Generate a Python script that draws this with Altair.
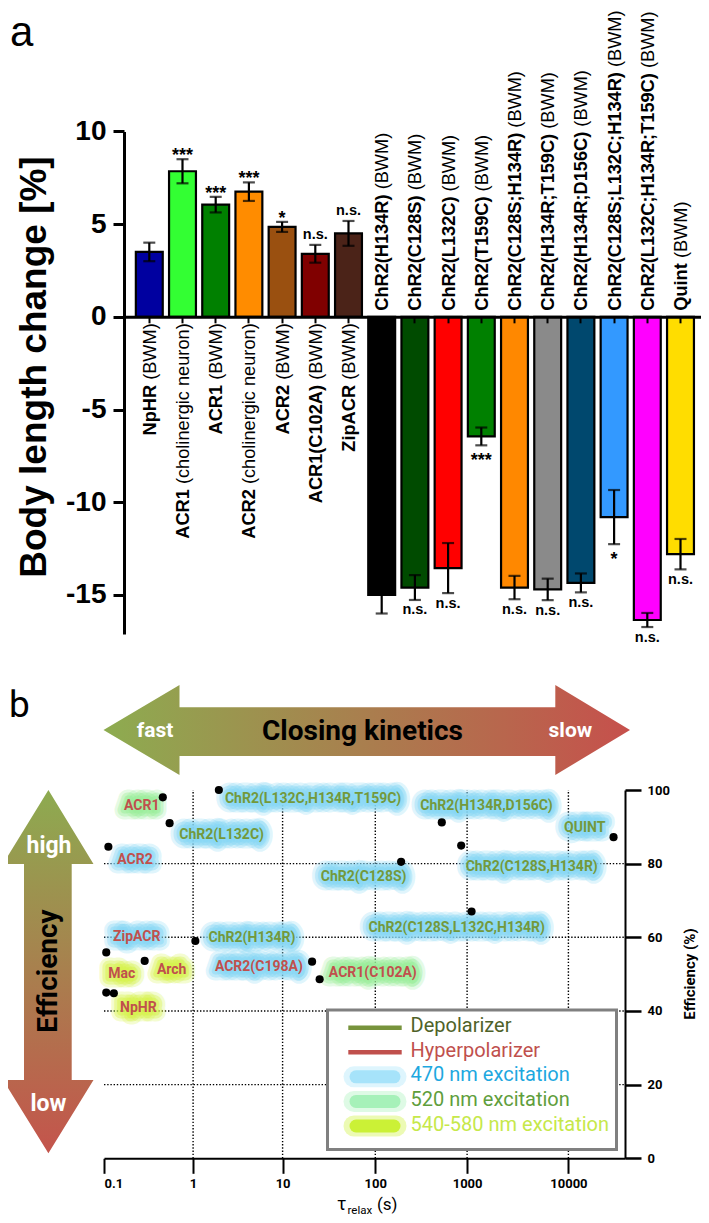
import altair as alt
import pandas as pd

W, H = 693, 1207
M = 8  # page margin: chart pixel = page pixel - 8

FA = "Liberation Sans, Arial, sans-serif"
FB = "Roboto, sans-serif"

# ---------------- panel a: body length change ----------------
names_left = ["NpHR", "ACR1", "ACR1", "ACR2", "ACR2", "ACR1(C102A)", "ZipACR"]
suffix_left = ["(BWM)", "(cholinergic neuron)", "(BWM)", "(cholinergic neuron)",
               "(BWM)", "(BWM)", "(BWM)"]
values_left = [3.5, 7.85, 6.05, 6.75, 4.85, 3.4, 4.5]
errors_left = [0.5, 0.65, 0.42, 0.5, 0.27, 0.48, 0.67]
signif_left = ["", "***", "***", "***", "*", "n.s.", "n.s."]
colors_left = ["#0000a0", "#33ff33", "#008000", "#ff8c00", "#9a5010", "#800000", "#4b2318"]

names_right = ["ChR2(H134R)", "ChR2(C128S)", "ChR2(L132C)", "ChR2(T159C)",
               "ChR2(C128S;H134R)", "ChR2(H134R;T159C)", "ChR2(H134R;D156C)",
               "ChR2(C128S;L132C;H134R)", "ChR2(L132C;H134R;T159C)", "Quint"]
suffix_right = ["(BWM)"] * 10
values_right = [-15.0, -14.6, -13.55, -6.45, -14.6, -14.7, -14.35, -10.8, -16.35, -12.8]
errors_right = [1.0, 0.67, 1.35, 0.48, 0.63, 0.58, 0.51, 1.46, 0.38, 0.82]
signif_right = ["", "n.s.", "n.s.", "***", "n.s.", "n.s.", "n.s.", "*", "n.s.", "n.s."]
colors_right = ["#000000", "#004b00", "#ff0000", "#008000", "#ff8800", "#8a8a8a",
                "#00486e", "#3399ff", "#ff00ff", "#ffdd00"]

ticks_a = [-15, -10, -5, 0, 5, 10]
domain_a = [-17.1, 10]

# ---------------- panel b: efficiency vs closing kinetics ----------------
variants = ["ACR1", "ChR2(L132C,H134R,T159C)", "ChR2(L132C)", "ACR2", "ChR2(C128S)",
            "ChR2(H134R,D156C)", "ChR2(C128S,H134R)", "QUINT", "ChR2(C128S,L132C,H134R)",
            "ChR2(H134R)", "ZipACR", "Arch", "Mac", "NpHR", "ACR2(C198A)", "ACR1(C102A)"]
tau_relax = [0.457, 1.94, 0.545, 0.112, 191, 530, 862, 27900, 1107,
             1.06, 0.106, 0.286, 0.106, 0.129, 20.8, 25.1]
efficiency = [98.0, 100.0, 91.0, 84.6, 80.5, 91.2, 84.9, 87.2, 67.0,
              59.0, 55.9, 53.6, 45.0, 44.8, 53.4, 48.6]
polarity = ["hyper", "depol", "depol", "hyper", "depol", "depol", "depol", "depol", "depol",
            "depol", "hyper", "hyper", "hyper", "hyper", "hyper", "hyper"]
excitation = ["520", "470", "470", "470", "470", "470", "470", "470", "470",
              "470", "470", "540-580", "540-580", "540-580", "470", "520"]
label_tau = [0.265, 21.3, 2.08, 0.223, 74.8, 1554, 4345, 14490, 771,
             4.55, 0.233, 0.575, 0.158, 0.243, 5.43, 94.0]
label_eff = [95.7, 97.5, 87.8, 81.0, 76.5, 95.7, 79.2, 89.6, 62.4,
             59.9, 60.0, 51.1, 50.0, 40.9, 52.0, 50.2]
tick_tau = [0.1, 1, 10, 100, 1000, 10000]
tick_eff = [0, 20, 40, 60, 80, 100]
grid_tau = [1, 10, 100, 1000, 10000]
grid_eff = [20, 40, 60, 80]
tau_max = 36200

legend_labels = ["Depolarizer", "Hyperpolarizer", "470 nm excitation",
                 "520 nm excitation", "540-580 nm excitation"]
legend_kind = ["line", "line", "glow", "glow", "glow"]
legend_swatch = ["#77933c", "#c0504d", "#a0e1fa", "#a0f0b4", "#c8f028"]
legend_text_color = ["#4f6228", "#c0504d", "#1ea8e0", "#5f9e3c", "#c6e84a"]

GLOW = {"470": "#86d7f5", "520": "#98ee98", "540-580": "#d6f34a"}
TCOL = {"depol": "#73993c", "hyper": "#c0504d"}

# ---------------- helpers ----------------
AR = {' ': 278, '(': 333, ')': 333, 'B': 667, 'W': 944, 'M': 833, 'c': 500, 'h': 556,
      'o': 556, 'l': 222, 'i': 222, 'n': 556, 'e': 556, 'r': 333, 'g': 556, 'u': 556}
AB = {' ': 278, '(': 333, ')': 333, ';': 333, 'A': 722, 'C': 722, 'D': 722, 'H': 722,
      'L': 611, 'N': 722, 'Q': 778, 'R': 722, 'S': 667, 'T': 611, 'Z': 611, 'h': 611,
      'i': 278, 'n': 611, 'p': 611, 't': 333, 'u': 611}


def tw(s, size, table):
    return sum(table.get(ch, 556) for ch in s) * size / 1000.0


# panel a scales (page positions minus margin)
keys = [str(i) for i in range(17)]
XA = alt.Scale(type="band", domain=keys, range=[124 - M, 705.8 - M],
               paddingInner=0.19, paddingOuter=0.357)
YA_RANGE = [633.9 - M, 131.4 - M]
YA = alt.Scale(type="linear", domain=domain_a, range=YA_RANGE, nice=False, zero=False)
PPU = (YA_RANGE[0] - YA_RANGE[1]) / (domain_a[1] - domain_a[0])
ZERO_PX = YA_RANGE[1] + domain_a[1] * PPU
LBL = 18.2
SP = 278 * LBL / 1000

rows = []
for i, (n, s, v, e, g, c) in enumerate(zip(names_left + names_right, suffix_left + suffix_right,
                                           values_left + values_right, errors_left + errors_right,
                                           signif_left + signif_right, colors_left + colors_right)):
    side = "pos" if v > 0 else "neg"
    if side == "pos":
        sy = -((323.3 - M) - ZERO_PX) / PPU
        ny = sy - (tw(s, LBL, AR) + SP) / PPU
    else:
        ny = (ZERO_PX - (310.7 - M)) / PPU
        sy = ny + (tw(n, LBL, AB) + SP) / PPU
    star = "star" if "*" in g else ("ns" if g else "none")
    rows.append(dict(key=str(i), name=n, suffix=s, value=v, lo=v - e, hi=v + e, sig=g,
                     color=c, side=side, star=star, name_y=ny, suffix_y=sy))
df_a = pd.DataFrame(rows)

xa = alt.X("key:N", scale=XA, axis=None)

bars = alt.Chart(df_a).mark_bar(stroke="black", strokeWidth=2.2).encode(
    x=alt.X("key:N", scale=XA, axis=alt.Axis(
        orient="bottom", offset=-(H - ZERO_PX), labels=False, title=None, grid=False,
        domainColor="black", domainWidth=3, tickColor="black", tickWidth=2, tickSize=6, zindex=1)),
    y=alt.Y("value:Q", scale=YA, axis=alt.Axis(
        orient="left", offset=-(124 - M), values=ticks_a, title=None, grid=False,
        labelExpr="toString(datum.value)", labelFont=FA, labelFontSize=28,
        labelFontWeight="bold", labelColor="black", labelPadding=7,
        domainColor="black", domainWidth=3, tickColor="black", tickWidth=3, tickSize=11)),
    fill=alt.Fill("color:N", scale=None),
)
err_rule = alt.Chart(df_a).mark_rule(color="black", strokeWidth=2.2).encode(
    x=xa, y=alt.Y("lo:Q", scale=YA, axis=None), y2="hi:Q")
cap_hi = alt.Chart(df_a).mark_tick(color="black", thickness=2.2, size=12, orient="horizontal").encode(
    x=xa, y=alt.Y("hi:Q", scale=YA, axis=None))
cap_lo = alt.Chart(df_a).mark_tick(color="black", thickness=2.2, size=12, orient="horizontal").encode(
    x=xa, y=alt.Y("lo:Q", scale=YA, axis=None))


def sig_layer(side, star, field, dy, size):
    return alt.Chart(df_a).transform_filter(
        (alt.datum.side == side) & (alt.datum.star == star)).mark_text(
        font=FA, fontSize=size, fontWeight="bold", color="black", baseline="alphabetic",
        align="center", dy=dy).encode(
        x=xa, y=alt.Y(f"{field}:Q", scale=YA, axis=None), text="sig:N")


sigs = [sig_layer("pos", "star", "hi", 1.8, 18), sig_layer("pos", "ns", "hi", -6, 14.5),
        sig_layer("neg", "star", "lo", 20.6, 18), sig_layer("neg", "ns", "lo", 14.5, 14.5)]


def label_layer(side, tfield, yfield, bold, align):
    return alt.Chart(df_a).transform_filter(alt.datum.side == side).mark_text(
        font=FA, fontSize=LBL, fontWeight="bold" if bold else "normal", angle=270,
        align=align, baseline="alphabetic", dy=6.5, color="black").encode(
        x=xa, y=alt.Y(f"{yfield}:Q", scale=YA, axis=None), text=f"{tfield}:N")


labels_a = [label_layer("pos", "name", "name_y", True, "right"),
            label_layer("pos", "suffix", "suffix_y", False, "right"),
            label_layer("neg", "name", "name_y", True, "left"),
            label_layer("neg", "suffix", "suffix_y", False, "left")]

# panel b scales
XB_RANGE = [p - M for p in [104, 193.1, 282.6, 375.3, 467.1, 568.4, 625]]
XB = alt.Scale(type="log", domain=tick_tau + [tau_max], range=XB_RANGE, nice=False)
YB_RANGE = [1158.3 - M, 790 - M]
YB = alt.Scale(type="linear", domain=[0, 100], range=YB_RANGE, nice=False, zero=False)

df_b = pd.DataFrame({"variant": variants, "tau": tau_relax, "eff": efficiency,
                     "lt": label_tau, "le": label_eff,
                     "glow": [GLOW[e] for e in excitation],
                     "tcol": [TCOL[p] for p in polarity]})

grid_v = alt.Chart(pd.DataFrame({"t": grid_tau, "e0": 0, "e1": 100})).mark_rule(
    color="black", strokeWidth=1.4, strokeDash=[1.4, 1.8]).encode(
    x=alt.X("t:Q", scale=XB, axis=None), y=alt.Y("e0:Q", scale=YB, axis=None), y2="e1:Q")
grid_h = alt.Chart(pd.DataFrame({"e": grid_eff, "t0": 0.1, "t1": tau_max})).mark_rule(
    color="black", strokeWidth=1.4, strokeDash=[1.4, 1.8]).encode(
    x=alt.X("t0:Q", scale=XB, axis=None), x2="t1:Q", y=alt.Y("e:Q", scale=YB, axis=None))

xb = alt.X("lt:Q", scale=XB, axis=None)
yb = alt.Y("le:Q", scale=YB, axis=None)


def glow_layer(width, op):
    return alt.Chart(df_b).mark_text(
        font=FB, fontSize=14, fontWeight="bold", strokeWidth=width, strokeOpacity=op,
        fillOpacity=0, strokeJoin="round", strokeCap="round", baseline="middle").encode(
        x=xb, y=yb, text="variant:N", stroke=alt.Stroke("glow:N", scale=None))


glows = [glow_layer(19, 0.25), glow_layer(13, 0.4), glow_layer(7, 0.5)]
texts_b = alt.Chart(df_b).mark_text(font=FB, fontSize=14, fontWeight="bold", baseline="middle").encode(
    x=xb, y=yb, text="variant:N", color=alt.Color("tcol:N", scale=None))

dots = alt.Chart(df_b).mark_circle(size=66, color="black", opacity=1).encode(
    x=alt.X("tau:Q", scale=XB, axis=alt.Axis(
        orient="bottom", offset=-(H - YB_RANGE[0]), values=tick_tau, format="~g", title=None,
        grid=False, labelFont=FB, labelFontSize=13, labelFontWeight="bold", labelColor="black",
        labelPadding=4, domainColor="black", domainWidth=2, tickColor="black", tickWidth=2,
        tickSize=15)),
    y=alt.Y("eff:Q", scale=YB, axis=alt.Axis(
        orient="right", offset=-(W - XB_RANGE[-1]), values=tick_eff, title=None, grid=False,
        labelFont=FB, labelFontSize=13, labelFontWeight="bold", labelColor="black",
        labelPadding=6, domainColor="black", domainWidth=2, tickColor="black", tickWidth=2.5,
        tickSize=16)),
)

# ---------------- decorations in page-pixel coordinates ----------------
PX = alt.Scale(type="linear", domain=[M, M + W], range=[0, W], nice=False, zero=False)
PY = alt.Scale(type="linear", domain=[M, M + H], range=[0, H], nice=False, zero=False)


def ptext(txt, x, y, size, color="black", weight="normal", font=FB, angle=0,
          align="center", baseline="middle"):
    kw = dict(font=font, fontSize=size, fontWeight=weight, color=color, align=align,
              baseline=baseline)
    if angle:
        kw["angle"] = angle
    return alt.Chart(pd.DataFrame({"x": [x], "y": [y], "t": [txt]})).mark_text(**kw).encode(
        x=alt.X("x:Q", scale=PX, axis=None), y=alt.Y("y:Q", scale=PY, axis=None), text="t:N")


grad_h = alt.LinearGradient(gradient="linear", x1=0, x2=1, y1=0, y2=0, stops=[
    alt.GradientStop(color="#8dac50", offset=0), alt.GradientStop(color="#c6504c", offset=1)])
grad_v = alt.LinearGradient(gradient="linear", x1=0, x2=0, y1=0, y2=1, stops=[
    alt.GradientStop(color="#8dab50", offset=0), alt.GradientStop(color="#c4544c", offset=1)])

harrow = pd.DataFrame({"x": [103.5, 179.5, 179.51, 555.3, 555.31, 630],
                       "y": [730, 685, 707.3, 707.3, 685, 730],
                       "y2": [730, 775, 756, 756, 775, 730]})
varrow = pd.DataFrame({"y": [790, 864, 864.01, 1080, 1080.01, 1153.3],
                       "x": [48.4, 3, 24, 24, 3, 48.4],
                       "x2": [48.4, 93.5, 71.7, 71.7, 93.5, 48.4]})
arrow_h = alt.Chart(harrow).mark_area(fill=grad_h, opacity=1).encode(
    x=alt.X("x:Q", scale=PX, axis=None), y=alt.Y("y:Q", scale=PY, axis=None), y2="y2:Q")
arrow_v = alt.Chart(varrow).mark_area(fill=grad_v, opacity=1, orient="horizontal").encode(
    y=alt.Y("y:Q", scale=PY, axis=None), x=alt.X("x:Q", scale=PX, axis=None), x2="x2:Q")

deco = [
    arrow_h, arrow_v,
    ptext("fast", 155, 731, 21, "white", "bold"),
    ptext("Closing kinetics", 362.5, 732, 28, "black", "bold"),
    ptext("slow", 570.4, 731, 21, "white", "bold"),
    ptext("high", 49, 846, 23, "white", "bold"),
    ptext("Efficiency", 49, 971, 28, "black", "bold", angle=270),
    ptext("low", 48.5, 1104, 23, "white", "bold"),
    ptext("a", 10, 46, 42, "black", "normal", FA, align="left", baseline="alphabetic"),
    ptext("b", 9, 716.7, 37, "black", "normal", FB, align="left", baseline="alphabetic"),
    ptext("Body length change [%]", 46, 367, 37, "black", "bold", FA, angle=270,
          baseline="alphabetic"),
    ptext("Efficiency (%)", 690, 974, 15, "black", "bold", angle=270),
    ptext("\u03c4", 337, 1210, 18, "black", "normal", align="left", baseline="alphabetic"),
    ptext("relax", 347.5, 1213.5, 11.5, "black", "normal", align="left", baseline="alphabetic"),
    ptext("(s)", 377, 1210, 17, "black", "normal", align="left", baseline="alphabetic"),
]

# legend
box = alt.Chart(pd.DataFrame({"x": [327.5], "x2": [616.5], "y": [1010], "y2": [1149.5]})).mark_rect(
    fill="white", stroke="#808080", strokeWidth=3).encode(
    x=alt.X("x:Q", scale=PX, axis=None), x2="x2:Q", y=alt.Y("y:Q", scale=PY, axis=None), y2="y2:Q")
df_leg = pd.DataFrame({"item": legend_labels, "kind": legend_kind, "sw": legend_swatch,
                       "tc": legend_text_color})
LY = alt.Scale(type="point", domain=legend_labels, range=[1027.7 - M, 1126 - M], padding=0)
ly = alt.Y("item:N", scale=LY, axis=None)
leg_lines = alt.Chart(df_leg).transform_filter(alt.datum.kind == "line").mark_rule(
    strokeWidth=4.5).encode(x=alt.value(348.3 - M), x2=alt.value(401.7 - M), y=ly,
                            stroke=alt.Stroke("sw:N", scale=None))
leg_glow1 = alt.Chart(df_leg).transform_filter(alt.datum.kind == "glow").mark_rule(
    strokeWidth=21, strokeCap="round", opacity=0.35).encode(
    x=alt.value(354 - M), x2=alt.value(396 - M), y=ly, stroke=alt.Stroke("sw:N", scale=None))
leg_glow2 = alt.Chart(df_leg).transform_filter(alt.datum.kind == "glow").mark_rule(
    strokeWidth=13, strokeCap="round", opacity=0.9).encode(
    x=alt.value(356 - M), x2=alt.value(394 - M), y=ly, stroke=alt.Stroke("sw:N", scale=None))
leg_text = alt.Chart(df_leg).mark_text(font=FB, fontSize=20, align="left", baseline="middle",
                                       dy=-1.5).encode(
    x=alt.value(410.6 - M), y=ly, text="item:N", color=alt.Color("tc:N", scale=None))

layers = (deco + [bars, err_rule, cap_hi, cap_lo] + sigs + labels_a
          + [grid_v, grid_h] + glows + [texts_b, dots]
          + [box, leg_lines, leg_glow1, leg_glow2, leg_text])

chart = alt.layer(*layers).resolve_scale(
    x="independent", y="independent"
).properties(
    width=W, height=H, autosize=alt.AutoSizeParams(type="none"), padding=0, background="white"
).configure_view(strokeWidth=0)

chart.save("out.html", embed_options={"renderer": "svg", "actions": False})
